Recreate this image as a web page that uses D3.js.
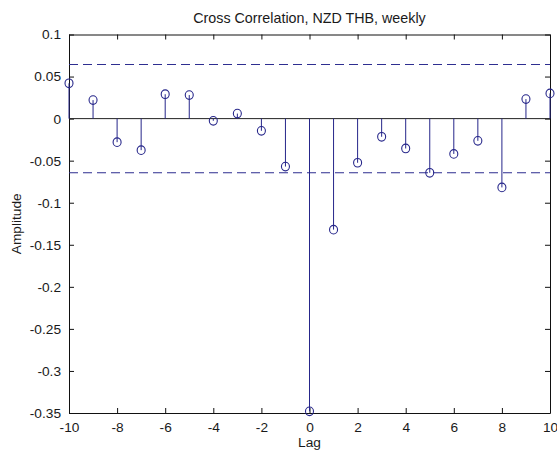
<!DOCTYPE html>
<html>
<head>
<meta charset="utf-8">
<script src="https://cdn.jsdelivr.net/npm/d3@7/dist/d3.min.js"></script>
<style>
  html, body { margin: 0; padding: 0; background: #ffffff; }
  svg { display: block; }
  text { font-family: "Liberation Sans", Arial, sans-serif; fill: #1a1a1a; }
</style>
</head>
<body>
<svg id="chart" width="557" height="453"></svg>
<script>
// Cross-correlation stem plot, NZD vs THB weekly returns
const lags = [-10, -9, -8, -7, -6, -5, -4, -3, -2, -1, 0, 1, 2, 3, 4, 5, 6, 7, 8, 9, 10];
const amplitude = [0.042, 0.022, -0.028, -0.0375, 0.029, 0.028, -0.0026, 0.006, -0.0145, -0.057,
                   -0.348, -0.132, -0.0525, -0.0216, -0.0355, -0.0644, -0.042, -0.0264, -0.0818, 0.0232, 0.030];
const confidenceBounds = [0.0644, -0.0644];
const xTicks = [-10, -8, -6, -4, -2, 0, 2, 4, 6, 8, 10];
const yTicks = [0.1, 0.05, 0, -0.05, -0.1, -0.15, -0.2, -0.25, -0.3, -0.35];

const svg = d3.select("#chart");
const plotLeft = 69, plotRight = 550, plotTop = 34.5, plotBottom = 413;
const stemColor = "#26268a";
const labelSize = 13.7;

const x = d3.scaleLinear().domain([-10, 10]).range([plotLeft, plotRight]);
const y = d3.scaleLinear().domain([-0.35, 0.1]).range([plotBottom, plotTop]);

const fmt = v => (Math.abs(v) < 1e-9 ? "0" : String(+v.toFixed(2)));
const tickLen = 5;

// Axes with inward ticks on all four sides
const axB = svg.append("g").attr("transform", `translate(0,${plotBottom})`)
  .call(d3.axisBottom(x).tickValues(xTicks).tickFormat(d => String(d)).tickSizeInner(-tickLen).tickSizeOuter(0).tickPadding(9));
const axT = svg.append("g").attr("transform", `translate(0,${plotTop})`)
  .call(d3.axisTop(x).tickValues(xTicks).tickFormat("").tickSizeInner(-tickLen).tickSizeOuter(0));
const axL = svg.append("g").attr("transform", `translate(${plotLeft},0)`)
  .call(d3.axisLeft(y).tickValues(yTicks).tickFormat(fmt).tickSizeInner(-tickLen).tickSizeOuter(0).tickPadding(8));
const axR = svg.append("g").attr("transform", `translate(${plotRight},0)`)
  .call(d3.axisRight(y).tickValues(yTicks).tickFormat("").tickSizeInner(-tickLen).tickSizeOuter(0));

[axB, axT, axL, axR].forEach(g => {
  g.selectAll("path.domain").attr("stroke", "#111").attr("stroke-width", 1);
  g.selectAll(".tick line").attr("stroke", "#111");
  g.selectAll(".tick text").attr("font-size", labelSize).attr("fill", "#1a1a1a")
    .attr("font-family", "'Liberation Sans', Arial, sans-serif");
});

// Stem baseline at zero
svg.append("line")
  .attr("x1", x(-10)).attr("x2", x(10))
  .attr("y1", y(0)).attr("y2", y(0))
  .attr("stroke", "#222").attr("stroke-width", 1);

// Confidence bounds
svg.selectAll("line.bound").data(confidenceBounds).enter().append("line")
  .attr("class", "bound")
  .attr("x1", x(-10)).attr("x2", x(10))
  .attr("y1", d => y(d)).attr("y2", d => y(d))
  .attr("stroke", "#2e2e90").attr("stroke-width", 1.1)
  .attr("stroke-dasharray", "9,5");

const pts = lags.map((l, i) => ({ lag: l, v: amplitude[i] }));

// Stems
svg.selectAll("line.stem").data(pts).enter().append("line")
  .attr("class", "stem")
  .attr("x1", d => x(d.lag)).attr("x2", d => x(d.lag))
  .attr("y1", y(0)).attr("y2", d => y(d.v))
  .attr("stroke", stemColor).attr("stroke-width", 1);

// Stem heads
svg.selectAll("ellipse.head").data(pts).enter().append("ellipse")
  .attr("class", "head")
  .attr("cx", d => x(d.lag)).attr("cy", d => y(d.v))
  .attr("rx", 4).attr("ry", 4.3)
  .attr("fill", "none").attr("stroke", stemColor).attr("stroke-width", 1.1);

// Title and axis labels
svg.append("text")
  .attr("x", (plotLeft + plotRight) / 2).attr("y", 23)
  .attr("text-anchor", "middle").attr("font-size", 14.3)
  .text("Cross Correlation, NZD THB, weekly");

svg.append("text")
  .attr("x", (plotLeft + plotRight) / 2).attr("y", 447)
  .attr("text-anchor", "middle").attr("font-size", labelSize)
  .text("Lag");

svg.append("text")
  .attr("transform", `translate(21,${(plotTop + plotBottom) / 2}) rotate(-90)`)
  .attr("text-anchor", "middle").attr("font-size", labelSize)
  .text("Amplitude");
</script>
</body>
</html>
